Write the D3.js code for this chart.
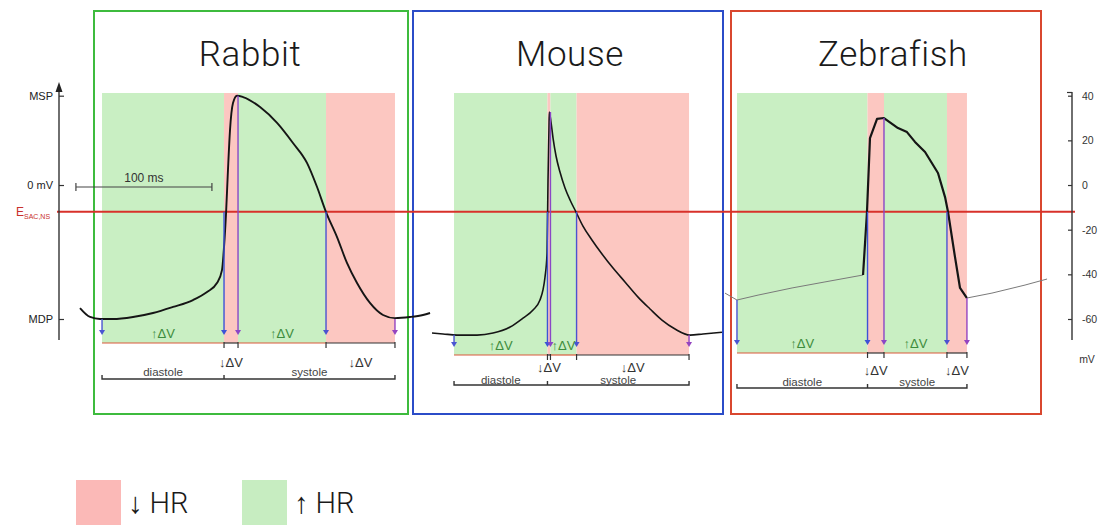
<!DOCTYPE html>
<html>
<head>
<meta charset="utf-8">
<script src="https://cdn.jsdelivr.net/npm/d3@7/dist/d3.min.js"></script>
<style>
  html, body { margin: 0; padding: 0; background: #fff; }
  svg { display: block; }
  text { font-family: "Liberation Sans", Arial, sans-serif; }
  .title, .legend-label { font-family: Roboto, "Liberation Sans", sans-serif; font-weight: 300; }
</style>
</head>
<body>
<svg id="chart" width="1102" height="525"></svg>
<script>
// ---- membrane potential axis (mV) ----
const mvTicks = [40, 20, 0, -20, -40, -60];
const markerValues = [40, 0, -60];
const markerLabels = ["MSP", "0 mV", "MDP"];
const eSacNs = -12;            // reversal potential of SAC,NS current

// ---- phase labels ----
const speciesNames = ["Rabbit", "Mouse", "Zebrafish"];
const segmentLabels = ["↑ΔV", "↓ΔV", "↑ΔV", "↓ΔV"];
const phaseNames = ["diastole", "systole"];
const legendLabels = ["↓ HR", "↑ HR"];

// ---- rabbit SAN action potential (time ms, voltage mV) ----
const rabbitT = [0, 7.4, 14.7, 24.3, 39, 53.7, 68.4, 83.1, 93.4, 100.7, 104.4, 105.9, 107.4, 108.8, 110.3, 112.5, 115.4,
  119.9, 132.4, 144.9, 156.6, 166.9, 174.3, 180.9, 189, 196.3, 203.7, 213.2, 222.8, 231.6, 242.6, 252.2, 257.4];
const rabbitV = [-55.1, -59.1, -60, -60, -59.1, -57.3, -54.6, -51.5, -47.9, -43.9, -38.1, -27.8, -12.5, 6.7, 24.6, 36.7, 40,
  39.4, 34.9, 27.8, 18.8, 9.9, -0.9, -12.1, -23.3, -34.9, -43.9, -52.8, -58.2, -59.6, -59.1, -58.2, -57.3];
// event times: MDP, E crossing (up), MSP, E crossing (down), MDP
const rabbitEvents = [16.2, 105.9, 116.2, 180.9, 231.6];
const rabbitEventV = [-60, -12, 40, -12, -60];

// ---- mouse SAN action potential ----
const mouseT = [0, 8.1, 18.4, 33.1, 44.9, 57.4, 66.9, 74.3, 79.4, 81.6, 83.1, 84.6, 85.3, 86.0, 86.25, 87.5, 89, 91.2,
  94.1, 97.8, 101.5, 105.9, 111.0, 117.6, 125.0, 133.1, 141.9, 151.5, 160.3, 169.1, 178.7, 189.7, 199.3, 213.2];
const mouseV = [-66.3, -66.7, -67.2, -67.2, -66.3, -63.6, -59.6, -56.0, -51.5, -47.0, -41.2, -30.5, 2.2, 24.6, 32.7, 28.2,
  21.0, 13.0, 5.8, -1.3, -6.7, -12.1, -18.4, -24.6, -30.9, -37.2, -43.4, -50.2, -55.5, -60.5, -64.5, -67.2, -66.7, -65.9];
const mouseEvents = [16.2, 84.9, 87.1, 106.3, 189.0];
const mouseEventV = [-67, -12, 32.7, -12, -67];

// ---- zebrafish pacemaker action potential (diastolic ramp, spike, next ramp) ----
const zebraRampT = [0, 8.8, 24.3, 49.3, 73.5, 101.5];
const zebraRampV = [-48.4, -51.5, -49.3, -46.1, -43.4, -40.3];
const zebraSpikeT = [101.5, 104.4, 106.6, 111.8, 116.9, 127.2, 133.8, 139.7, 147.1, 156.6, 161.8, 164.0, 169.1, 172.8, 177.9];
const zebraSpikeV = [-40.3, -12.1, 21.0, 29.6, 30.0, 25.5, 23.7, 19.3, 14.8, 5.4, -5.4, -12.1, -32.2, -46.1, -50.6];
const zebraNextT = [177.9, 196.3, 220.6, 236.8];
const zebraNextV = [-50.6, -48.4, -44.8, -42.1];
const zebraEvents = [8.8, 104.8, 116.9, 163.2, 177.9];
const zebraEventV = [-51.5, -12, 30, -12, -50.6];

// ---- drawing ----
const svg = d3.select("#chart");

const GREEN_FILL = "#c9efc3", PINK_FILL = "#fcc7c1";
const LEGEND_FILLS = ["#fbb9b7", "#c7edc1"];
const y = d3.scaleLinear().domain([-60, 40]).range([319, 95.7]);

const panels = [
  { name: speciesNames[0], box: [94, 408], color: "#3dbb3d", x0: 80, titleX: 250,
    rows: { orange: 343, down: 362, phase: 372, brace: 379 },
    traces: [{ t: rabbitT, v: rabbitV, w: 1.9, c: "#151515", curve: d3.curveMonotoneX }],
    events: rabbitEvents, eventV: rabbitEventV },
  { name: speciesNames[1], box: [413, 723], color: "#2b4cc8", x0: 432, titleX: 570,
    rows: { orange: 355, down: 367, phase: 380, brace: 385 },
    traces: [{ t: mouseT, v: mouseV, w: 1.6, c: "#151515", curve: d3.curveMonotoneX }],
    events: mouseEvents, eventV: mouseEventV },
  { name: speciesNames[2], box: [731, 1041], color: "#d9472f", x0: 725, titleX: 893,
    rows: { orange: 353, down: 370, phase: 382, brace: 388 },
    traces: [
      { t: zebraRampT, v: zebraRampV, w: 1, c: "#7a7a7a", curve: d3.curveLinear },
      { t: zebraSpikeT, v: zebraSpikeV, w: 2.2, c: "#151515", curve: d3.curveLinear },
      { t: zebraNextT, v: zebraNextV, w: 1, c: "#7a7a7a", curve: d3.curveLinear }],
    events: zebraEvents, eventV: zebraEventV }
];
// 100 ms spans 136 px in every panel
panels.forEach(p => { p.x = d3.scaleLinear().domain([0, 100]).range([p.x0, p.x0 + 136]); });

const gShade = svg.append("g");
const gBox = svg.append("g");
const gLine = svg.append("g");
const gTrace = svg.append("g");
const gMarks = svg.append("g");

const arrowColors = ["#4a55d2", "#3d52d6", "#8a46c6", "#4b52d0", "#9444c0"];

panels.forEach(p => {
  const ev = p.events, x = p.x, r = p.rows;
  // shaded phases: up, down, up, down
  for (let i = 0; i < 4; i++) {
    gShade.append("rect")
      .attr("x", x(ev[i])).attr("y", 93)
      .attr("width", x(ev[i + 1]) - x(ev[i]))
      .attr("height", r.orange - 93)
      .attr("fill", i % 2 === 0 ? GREEN_FILL : PINK_FILL);
  }
  // panel frame and title
  gBox.append("rect")
    .attr("x", p.box[0]).attr("y", 11)
    .attr("width", p.box[1] - p.box[0]).attr("height", 403)
    .attr("fill", "none").attr("stroke", p.color).attr("stroke-width", 2);
  gBox.append("text").attr("class", "title")
    .attr("x", p.titleX).attr("y", 66).attr("text-anchor", "middle")
    .attr("font-size", 35).attr("letter-spacing", 0.6).attr("fill", "#1a1a1a").text(p.name);

  // voltage traces
  p.traces.forEach(tr => {
    const line = d3.line().x(d => x(d[0])).y(d => y(d[1])).curve(tr.curve);
    gTrace.append("path")
      .datum(tr.t.map((t, i) => [t, tr.v[i]]))
      .attr("d", line).attr("fill", "none")
      .attr("stroke", tr.c).attr("stroke-width", tr.w)
      .attr("stroke-linejoin", "round");
  });

  // event arrows
  const tipY = r.orange - 8;
  ev.forEach((t, i) => {
    const xx = x(t);
    gMarks.append("line")
      .attr("x1", xx).attr("x2", xx)
      .attr("y1", y(p.eventV[i])).attr("y2", tipY - 4)
      .attr("stroke", arrowColors[i]).attr("stroke-width", 1.4);
    gMarks.append("path")
      .attr("d", `M${xx - 3},${tipY - 5}L${xx + 3},${tipY - 5}L${xx},${tipY}Z`)
      .attr("fill", arrowColors[i]);
  });

  // ΔV bracket
  for (let i = 0; i < 4; i++) {
    const up = i % 2 === 0;
    gMarks.append("line")
      .attr("x1", x(ev[i])).attr("x2", x(ev[i + 1]))
      .attr("y1", r.orange).attr("y2", r.orange)
      .attr("stroke", up ? "#d95a3c" : "#333").attr("stroke-width", 1.2);
    const cx = (x(ev[i]) + x(ev[i + 1])) / 2;
    gMarks.append("text")
      .attr("x", cx).attr("y", up ? r.orange - 10 : r.down)
      .attr("dy", "0.35em").attr("text-anchor", "middle")
      .attr("font-size", 13)
      .attr("fill", up ? "#3d8c3d" : "#333")
      .text(segmentLabels[i]);
  }
  ev.slice(1).forEach(t => {
    gMarks.append("line")
      .attr("x1", x(t)).attr("x2", x(t))
      .attr("y1", r.orange - 1).attr("y2", r.orange + 5)
      .attr("stroke", "#333").attr("stroke-width", 1.2);
  });

  // diastole / systole brace
  const b0 = x(ev[0]), b1 = x(ev[1]), b2 = x(ev[4]);
  gMarks.append("path")
    .attr("d", `M${b0},${r.brace - 4}V${r.brace}H${b2}V${r.brace - 4}M${b1},${r.brace}V${r.brace - 4}`)
    .attr("fill", "none").attr("stroke", "#333").attr("stroke-width", 1.4);
  [[b0, b1], [b1, b2]].forEach((seg, i) => {
    gMarks.append("text")
      .attr("x", (seg[0] + seg[1]) / 2).attr("y", r.phase)
      .attr("dy", "0.35em").attr("text-anchor", "middle")
      .attr("font-size", 11.5).attr("fill", "#444")
      .text(phaseNames[i]);
  });
});

// E_SAC,NS reference line
gLine.append("line")
  .attr("x1", 57).attr("x2", 1075)
  .attr("y1", y(eSacNs)).attr("y2", y(eSacNs))
  .attr("stroke", "#d8312a").attr("stroke-width", 2);
const eLab = gLine.append("text").attr("x", 16).attr("y", y(eSacNs) + 4)
  .attr("fill", "#c9302c").attr("font-size", 12);
eLab.append("tspan").text("E");
eLab.append("tspan").attr("font-size", 7).attr("dy", 3).text("SAC,NS");

// left marker axis
const leftAxis = svg.append("g").attr("transform", "translate(59,0)")
  .call(d3.axisLeft(y).tickValues(markerValues)
    .tickFormat((d, i) => markerLabels[i])
    .tickSize(-5).tickPadding(6));
leftAxis.select(".domain").remove();
leftAxis.selectAll(".tick line").attr("stroke", "#333").attr("stroke-width", 1.2);
leftAxis.selectAll(".tick text").attr("font-size", 11).attr("fill", "#222")
  .attr("font-family", "'Liberation Sans', Arial, sans-serif");
leftAxis.append("line").attr("x1", 0).attr("x2", 0).attr("y1", 88).attr("y2", 340)
  .attr("stroke", "#333").attr("stroke-width", 1.4);
leftAxis.append("path").attr("d", "M0,82L-3.5,92L3.5,92Z").attr("fill", "#222");

// 100 ms scale bar (rabbit time base)
const sb = panels[0].x;
const sbY = 187;
svg.append("path")
  .attr("d", `M${sb(-3)},${sbY - 4}V${sbY + 4}M${sb(-3)},${sbY}H${sb(97)}M${sb(97)},${sbY - 4}V${sbY + 4}`)
  .attr("stroke", "#444").attr("stroke-width", 1.2).attr("fill", "none");
svg.append("text").attr("x", (sb(-3) + sb(97)) / 2).attr("y", sbY - 5)
  .attr("text-anchor", "middle").attr("font-size", 12).attr("fill", "#333").text("100 ms");

// right mV axis
const rightAxis = svg.append("g").attr("transform", "translate(1072,0)")
  .call(d3.axisRight(y).tickValues(mvTicks).tickFormat(d => String(d))
    .tickSize(-4).tickPadding(10));
rightAxis.select(".domain").remove();
rightAxis.selectAll(".tick line").attr("stroke", "#333").attr("stroke-width", 1.2);
rightAxis.selectAll(".tick text").attr("font-size", 10.5).attr("fill", "#333")
  .attr("font-family", "'Liberation Sans', Arial, sans-serif");
rightAxis.append("line").attr("x1", 0).attr("x2", 0).attr("y1", 92).attr("y2", 340)
  .attr("stroke", "#333").attr("stroke-width", 1.4);
rightAxis.append("line").attr("x1", -5).attr("x2", 0).attr("y1", 92.5).attr("y2", 92.5)
  .attr("stroke", "#333").attr("stroke-width", 1.2);
rightAxis.append("text").attr("x", 15).attr("y", 363).attr("text-anchor", "middle")
  .attr("font-size", 10.5).attr("fill", "#333").text("mV");

// legend
const legend = svg.append("g");
[76, 242].forEach((lx, i) => {
  legend.append("rect").attr("x", lx).attr("y", 480).attr("width", 45).attr("height", 45).attr("fill", LEGEND_FILLS[i]);
  legend.append("text").attr("class", "legend-label")
    .attr("x", lx + 52).attr("y", 513).attr("font-size", 29).attr("fill", "#1a1a1a")
    .text(legendLabels[i]);
});
</script>
</body>
</html>
